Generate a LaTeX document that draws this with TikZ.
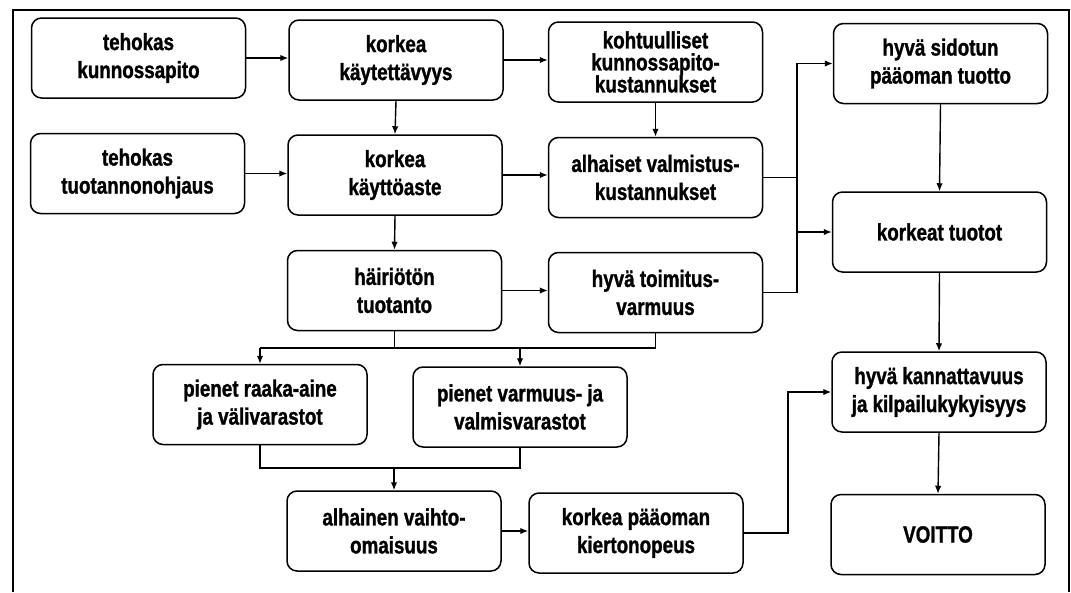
\documentclass[tikz,border=0pt]{standalone}
\usepackage{fontspec}
\setmainfont{Liberation Sans}[FakeStretch=0.8]
\newfontfamily\boxfont{Liberation Sans}[FakeStretch=0.8,FakeBold=1.2]
\usetikzlibrary{arrows.meta}
\begin{document}
\begin{tikzpicture}[x=1pt,y=-1pt,
  box/.style={draw, line width=1.5pt, rounded corners=10pt, minimum width=214pt, minimum height=80pt, align=center, font=\boxfont\fontsize{23.5}{28}\selectfont\bfseries, inner sep=0pt, text=black},
  conn/.style={line width=1.4pt},
  arr/.style={conn, -{Latex[length=8pt,width=6.5pt]}}]
\useasboundingbox (0,0) rectangle (1071,592);
\draw[line width=2.5pt] (13,592) -- (13,10) -- (1069,10) -- (1069,592);

\node[box] (A) at (138.5,58) {tehokas\\kunnossapito};
\node[box] (B) at (396,60) {korkea\\käytettävyys};
\node[box] (C) at (655.5,62) {kohtuulliset\\[-6pt]kunnossapito-\\[-6pt]kustannukset};
\node[box] (D) at (940.5,63.5) {hyvä sidotun\\pääoman tuotto};
\node[box] (E) at (137.5,173.5) {tehokas\\tuotannonohjaus};
\node[box] (F) at (395,175) {korkea\\käyttöaste};
\node[box] (G) at (655.5,177.5) {alhaiset valmistus-\\kustannukset};
\node[box] (H) at (939.5,232) {korkeat tuotot};
\node[box] (I) at (394.5,290.5) {häiriötön\\tuotanto};
\node[box] (J) at (655.5,292.5) {hyvä toimitus-\\varmuus};
\node[box] (K) at (260,404.5) {pienet raaka-aine\\ja välivarastot};
\node[box] (L) at (520,407) {pienet varmuus- ja\\valmisvarastot};
\node[box] (M) at (939,392) {hyvä kannattavuus\\ja kilpailukykyisyys};
\node[box] (N) at (394,531) {alhainen vaihto-\\omaisuus};
\node[box] (O) at (636,533) {korkea pääoman\\kiertonopeus};
\node[box] (P) at (938,534.5) {VOITTO};

\coordinate (jx) at (797,0);
\coordinate (kx) at (788,0);
\coordinate (s) at (0,348);
\coordinate (m) at (0,468);

\draw[arr] (A.east) -- (B.west |- A.east);
\draw[arr] (B.east) -- (C.west |- B.east);
\draw[arr] (E.east) -- (F.west |- E.east);
\draw[arr] (F.east) -- (G.west |- F.east);
\draw[arr] (I.east) -- (J.west |- I.east);
\draw[arr] (N.east) -- (O.west |- N.east);
\draw[arr] (B.south) -- (F.north);
\draw[arr] (F.south) -- (I.north);
\draw[arr] (C.south) -- (G.north);
\draw[arr] (D.south) -- (H.north);
\draw[arr] (H.south) -- (M.north);
\draw[arr] (M.south) -- (P.north);

\draw[arr] (J.east) -- (J.east -| jx) |- (D.west);
\draw[conn] (G.east) -- (G.east -| jx);
\draw[arr] (jx |- H.west) -- (H.west);

\draw[conn] (I.south) -- (I.south |- s);
\draw[conn] (J.south) -- (J.south |- s) -- (K.north |- s);
\draw[arr] (K.north |- s) -- (K.north);
\draw[arr] (L.north |- s) -- (L.north);

\draw[conn] (K.south) -- (K.south |- m) -- (L.south |- m) -- (L.south);
\draw[arr] (N.north |- m) -- (N.north);

\draw[arr] (O.east) -- (O.east -| kx) |- (M.west);
\end{tikzpicture}
\end{document}
